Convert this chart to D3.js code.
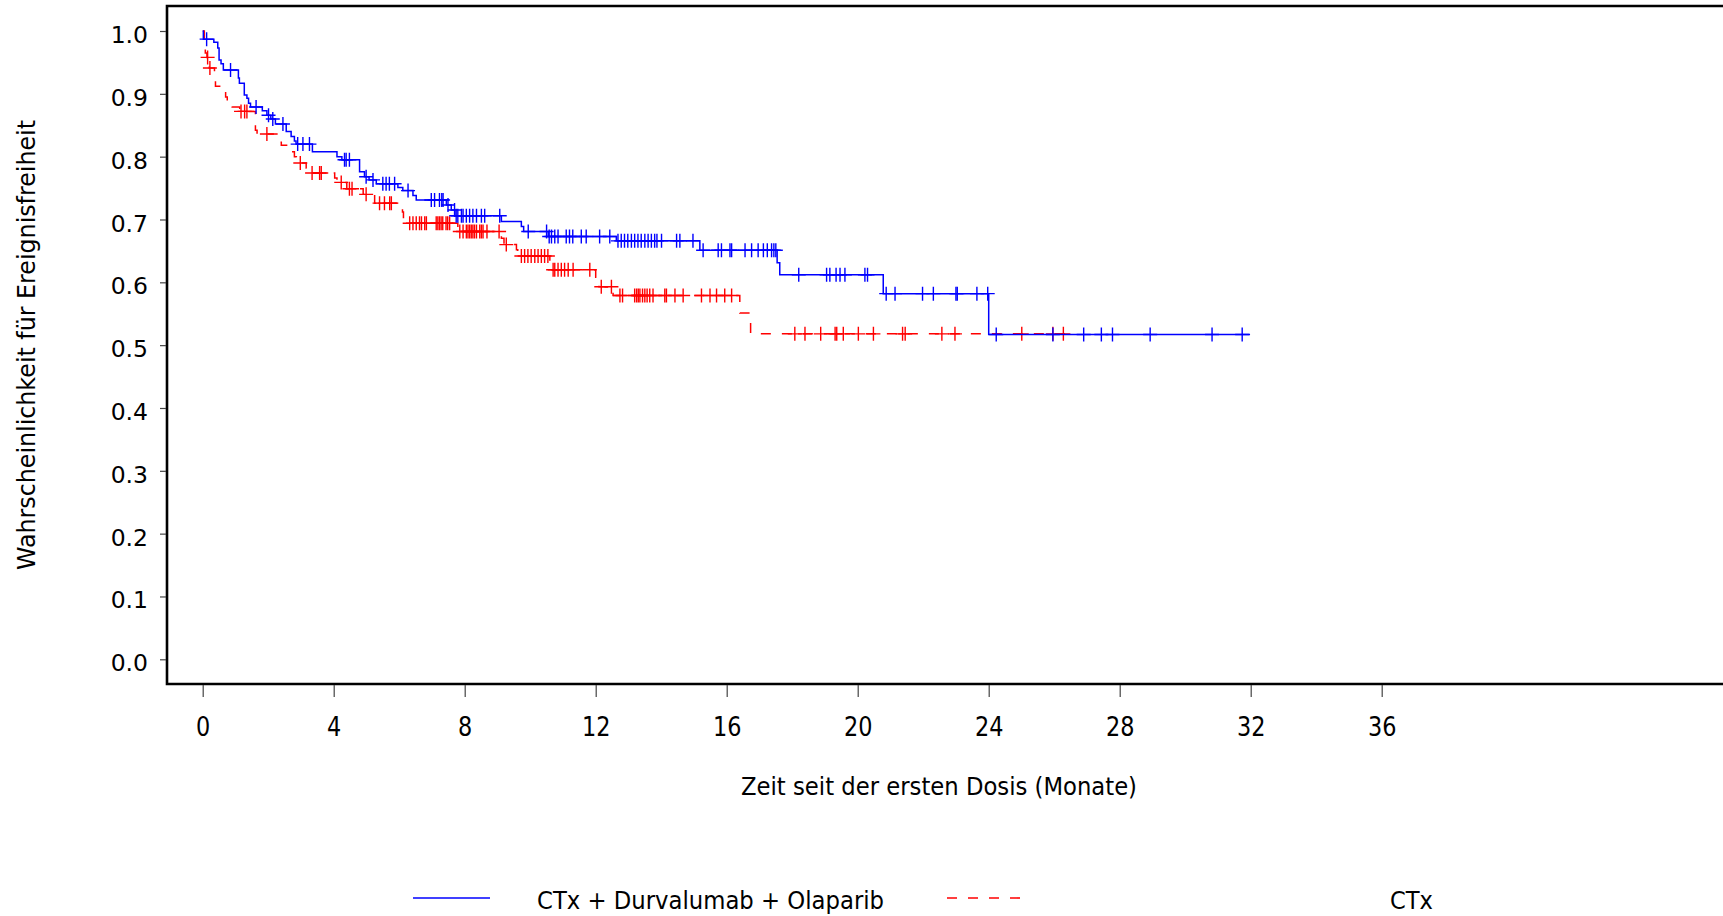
<!DOCTYPE html>
<html>
<head>
<meta charset="utf-8">
<script src="https://cdn.jsdelivr.net/npm/d3@7"></script>
<style>
  html, body { margin: 0; padding: 0; background: #fff; overflow: hidden; }
  svg { display: block; font-family: "DejaVu Sans", Verdana, sans-serif; }
</style>
</head>
<body>
<svg id="chart" width="1723" height="916"></svg>
<script>
// ---------- data ----------
const xTicks = [0, 4, 8, 12, 16, 20, 24, 28, 32, 36];
const yTicks = [0.0, 0.1, 0.2, 0.3, 0.4, 0.5, 0.6, 0.7, 0.8, 0.9, 1.0];
const seriesNames = ["CTx + Durvalumab + Olaparib", "CTx"];
const xTitle = "Zeit seit der ersten Dosis (Monate)";
const yTitle = "Wahrscheinlichkeit für Ereignisfreiheit";

// CTx + Durvalumab + Olaparib (blue): event times and survival after each event
const blueTimes = [0, 0.02, 0.34, 0.46, 0.50, 0.56, 0.63, 1.09, 1.12, 1.27, 1.35, 1.40, 1.46, 1.82, 1.96, 2.08, 2.22,
  2.55, 2.70, 2.80, 2.85, 3.35, 4.10, 4.25, 4.79, 4.94, 5.08, 5.30, 5.96, 6.11, 6.42, 6.52, 7.44, 7.59, 7.70,
  9.12, 9.73, 9.80, 10.55, 12.63, 15.18, 17.54, 17.62, 20.78, 24.00];
const blueSurv = [1.0, 0.987, 0.982, 0.973, 0.954, 0.948, 0.938, 0.925, 0.917, 0.898, 0.893, 0.885, 0.879, 0.873, 0.866, 0.860, 0.852,
  0.840, 0.832, 0.825, 0.820, 0.808, 0.800, 0.795, 0.776, 0.768, 0.763, 0.757, 0.751, 0.746, 0.738, 0.731, 0.723, 0.715, 0.706,
  0.697, 0.689, 0.681, 0.673, 0.666, 0.651, 0.631, 0.612, 0.582, 0.517];
const blueEnd = 31.98;
const blueCensor = [0.12, 0.85, 1.63, 2.01, 2.14, 2.45, 2.90, 3.06, 3.26, 4.33, 4.38, 4.48, 4.99, 5.20, 5.50, 5.60, 5.70, 5.86,
  6.27, 6.98, 7.08, 7.23, 7.30, 7.34, 7.49, 7.69, 7.74, 7.79, 7.90, 7.95, 8.05, 8.15, 8.25, 8.36, 8.51, 8.61, 9.07,
  9.94, 10.50, 10.58, 10.65, 10.75, 10.85, 11.10, 11.20, 11.30, 11.56, 11.71, 12.12, 12.43, 12.68, 12.78, 12.88, 12.98,
  13.09, 13.19, 13.29, 13.39, 13.50, 13.60, 13.70, 13.80, 13.87, 14.01, 14.47, 14.57, 14.97, 15.28, 15.74, 15.84, 16.10,
  16.15, 16.56, 16.76, 16.96, 17.12, 17.24, 17.37, 17.44, 17.50, 18.20, 19.05, 19.15, 19.34, 19.46, 19.61, 20.22, 20.30,
  20.87, 21.14, 21.98, 22.31, 23.00, 23.04, 23.64, 23.97, 24.23, 25.96, 26.90, 27.44, 27.78, 28.93, 30.82, 31.74];

// CTx (red)
const redTimes = [0, 0.05, 0.08, 0.13, 0.20, 0.36, 0.39, 0.70, 0.75, 0.90, 1.13, 1.61, 1.66, 2.34, 2.40, 2.75, 2.80, 2.86,
  3.16, 3.22, 4.03, 4.10, 4.40, 4.90, 5.25, 6.10, 6.13, 6.18, 7.79, 9.12, 9.20, 9.58, 9.62, 10.60, 10.65, 12.00, 12.10,
  12.53, 16.40, 16.73];
const redSurv = [1.0, 0.976, 0.965, 0.958, 0.941, 0.925, 0.912, 0.895, 0.886, 0.879, 0.872, 0.842, 0.836, 0.823, 0.818, 0.808, 0.800, 0.790,
  0.782, 0.774, 0.766, 0.759, 0.749, 0.740, 0.726, 0.712, 0.700, 0.694, 0.681, 0.670, 0.660, 0.652, 0.642, 0.630, 0.620, 0.608, 0.593,
  0.579, 0.551, 0.518];
const redEnd = 26.45;
const redCensor = [0.15, 0.22, 1.17, 1.28, 1.35, 1.96, 2.98, 3.34, 3.57, 3.62, 4.23, 4.48, 4.56, 4.99, 5.40, 5.55, 5.71, 5.76,
  6.32, 6.42, 6.52, 6.62, 6.68, 6.78, 6.83, 7.13, 7.18, 7.23, 7.28, 7.33, 7.43, 7.48, 7.54, 7.85, 7.95, 8.05, 8.10, 8.15,
  8.20, 8.25, 8.30, 8.36, 8.46, 8.51, 8.56, 8.68, 9.05, 9.27, 9.73, 9.83, 9.93, 10.03, 10.14, 10.24, 10.34, 10.44, 10.54,
  10.70, 10.75, 10.85, 10.95, 11.05, 11.16, 11.31, 11.82, 12.17, 12.48, 12.74, 12.82, 13.19, 13.25, 13.30, 13.35, 13.43,
  13.50, 13.57, 13.65, 13.75, 14.11, 14.16, 14.42, 14.67, 15.23, 15.49, 15.69, 15.94, 16.15, 18.08, 18.39, 18.87, 19.31,
  19.36, 19.56, 20.02, 20.48, 21.37, 21.45, 22.57, 22.97, 25.01, 25.96, 26.28];

// ---------- layout ----------
const svg = d3.select("#chart");
const frame = { left: 167, top: 6, bottom: 684, right: 1740 };
const x = d3.scaleLinear().domain([0, 36]).range([202.7, 1381.7]);
const y = d3.scaleLinear().domain([0, 1]).range([659.3, 31]);

// frame
svg.append("path")
  .attr("d", `M${frame.right},${frame.top}H${frame.left}V${frame.bottom}H${frame.right}`)
  .attr("fill", "none").attr("stroke", "#000").attr("stroke-width", 2.6);

// y axis
const yAxis = svg.append("g").attr("transform", `translate(${frame.left - 1},0)`)
  .call(d3.axisLeft(y).tickValues(yTicks).tickFormat(d3.format(".1f")).tickSize(6).tickPadding(12));
yAxis.select(".domain").remove();
yAxis.selectAll(".tick line").attr("stroke", "#444").attr("stroke-width", 1.2);
yAxis.selectAll(".tick text").attr("font-size", 23.5).attr("fill", "#000")
  .attr("font-family", "DejaVu Sans").attr("dy", "0.49em");

// x axis
const xAxis = svg.append("g").attr("transform", `translate(0,${frame.bottom + 1})`)
  .call(d3.axisBottom(x).tickValues(xTicks).tickSize(12).tickPadding(21));
xAxis.select(".domain").remove();
xAxis.selectAll(".tick line").attr("stroke", "#444").attr("stroke-width", 1.2);
xAxis.selectAll(".tick text").attr("font-size", 26).attr("fill", "#000")
  .attr("font-family", "DejaVu Sans");
xAxis.selectAll(".tick text").each(function () {
  const w = this.getComputedTextLength();
  d3.select(this).attr("textLength", w * 0.86).attr("lengthAdjust", "spacingAndGlyphs");
});

// titles
svg.append("text").attr("x", 741).attr("y", 795).attr("font-size", 25).attr("fill", "#000")
  .attr("textLength", 396).attr("lengthAdjust", "spacingAndGlyphs").text(xTitle);
svg.append("text").attr("transform", "translate(35,345) rotate(-90)").attr("text-anchor", "middle")
  .attr("font-size", 25).attr("fill", "#000")
  .attr("textLength", 450).attr("lengthAdjust", "spacingAndGlyphs").text(yTitle);

// ---------- curves ----------
function stepPoints(times, surv, end) {
  const pts = times.map((t, i) => [t, surv[i]]);
  pts.push([end, surv[surv.length - 1]]);
  return pts;
}
function survAt(times, surv, t) {
  let s = surv[0];
  for (let i = 0; i < times.length; i++) { if (times[i] <= t) s = surv[i]; else break; }
  return s;
}
const line = d3.line().x(d => x(d[0])).y(d => y(d[1])).curve(d3.curveStepAfter);

const series = [
  { name: seriesNames[0], times: blueTimes, surv: blueSurv, end: blueEnd, censor: blueCensor, color: "#0000ff", dash: null },
  { name: seriesNames[1], times: redTimes, surv: redSurv, end: redEnd, censor: redCensor, color: "#ff0000", dash: "10,11" }
];

// draw red first then blue on top
[series[1], series[0]].forEach(s => {
  svg.append("path").datum(stepPoints(s.times, s.surv, s.end))
    .attr("d", line).attr("fill", "none").attr("stroke", s.color).attr("stroke-width", 1.5)
    .attr("stroke-dasharray", s.dash);
  svg.append("g").selectAll("path").data(s.censor).join("path")
    .attr("d", t => {
      const cx = x(t), cy = y(survAt(s.times, s.surv, t));
      return `M${cx - 7},${cy}H${cx + 7}M${cx},${cy - 7}V${cy + 7}`;
    })
    .attr("stroke", s.color).attr("stroke-width", 1.4).attr("fill", "none");
});

// ---------- legend ----------
svg.append("line").attr("x1", 413).attr("x2", 490).attr("y1", 898).attr("y2", 898)
  .attr("stroke", series[0].color).attr("stroke-width", 1.6);
svg.append("text").attr("x", 537).attr("y", 909).attr("font-size", 25).attr("fill", "#000")
  .attr("textLength", 347).attr("lengthAdjust", "spacingAndGlyphs").text(series[0].name);
svg.append("line").attr("x1", 947).attr("x2", 1020).attr("y1", 898).attr("y2", 898)
  .attr("stroke", series[1].color).attr("stroke-width", 1.6).attr("stroke-dasharray", "10,11");
svg.append("text").attr("x", 1390).attr("y", 909).attr("font-size", 25).attr("fill", "#000")
  .attr("textLength", 43).attr("lengthAdjust", "spacingAndGlyphs").text(series[1].name);
</script>
</body>
</html>
